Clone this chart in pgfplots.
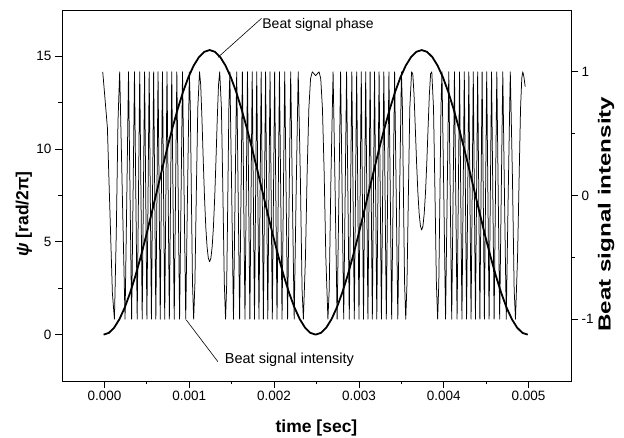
\documentclass[border=0pt]{standalone}
\usepackage{fontspec}
\setmainfont{Liberation Sans}
\usepackage{graphicx}
\usepackage{pgfplots}
\usepackage{pgfplotstable}
\pgfplotsset{compat=1.18}

% beat signal phase psi(t) [rad/2pi]
\pgfplotstableread{
t psi
-0.0000100 0
0.0000525 0.094
0.0001150 0.375
0.0001775 0.836
0.0002400 1.465
0.0003025 2.247
0.0003650 3.162
0.0004275 4.188
0.0004900 5.300
0.0005525 6.470
0.0006150 7.670
0.0006775 8.870
0.0007400 10.040
0.0008025 11.152
0.0008650 12.178
0.0009275 13.094
0.0009900 13.875
0.0010525 14.504
0.0011150 14.965
0.0011775 15.246
0.0012400 15.340
0.0013025 15.246
0.0013650 14.965
0.0014275 14.504
0.0014900 13.875
0.0015525 13.094
0.0016150 12.178
0.0016775 11.152
0.0017400 10.040
0.0018025 8.870
0.0018650 7.670
0.0019275 6.470
0.0019900 5.300
0.0020525 4.188
0.0021150 3.162
0.0021775 2.247
0.0022400 1.465
0.0023025 0.836
0.0023650 0.375
0.0024275 0.094
0.0024900 0
0.0025525 0.094
0.0026150 0.375
0.0026775 0.836
0.0027400 1.465
0.0028025 2.247
0.0028650 3.162
0.0029275 4.188
0.0029900 5.300
0.0030525 6.470
0.0031150 7.670
0.0031775 8.870
0.0032400 10.040
0.0033025 11.152
0.0033650 12.178
0.0034275 13.094
0.0034900 13.875
0.0035525 14.504
0.0036150 14.965
0.0036775 15.246
0.0037400 15.340
0.0038025 15.246
0.0038650 14.965
0.0039275 14.504
0.0039900 13.875
0.0040525 13.094
0.0041150 12.178
0.0041775 11.152
0.0042400 10.040
0.0043025 8.870
0.0043650 7.670
0.0044275 6.470
0.0044900 5.300
0.0045525 4.188
0.0046150 3.162
0.0046775 2.247
0.0047400 1.465
0.0048025 0.836
0.0048650 0.375
0.0049275 0.094
0.0049900 0
}\phase

% beat signal intensity (normalised)
\pgfplotstableread{
t I
-0.0000200 1.0
-0.0000100 0.92
0.0000350 0.55
0.0000940 -0.79
0.0001180 -1.0
0.0001400 -0.30
0.0001600 0.60
0.0001800 1.0
0.0002115 0
0.0002431 -1
0.0002642 0
0.0002840 1
0.0003207 -1
0.0003545 1
0.0003863 -1
0.0004165 1
0.0004455 -1
0.0004735 1
0.0005009 -1
0.0005277 1
0.0005541 -1
0.0005802 1
0.0006062 -1
0.0006321 1
0.0006581 -1
0.0006843 1
0.0007109 -1
0.0007378 1
0.0007654 -1
0.0007937 1
0.0008230 -1
0.0008537 1
0.0008861 -1
0.0009207 1
0.0009586 -1
0.0009792 0
0.0010012 1
0.0010129 0.707
0.0010252 0
0.0010382 -0.707
0.0010520 -1
0.0010668 -0.707
0.0010829 0
0.0011007 0.707
0.0011210 1
0.0011350 0.895
0.0011500 0.615
0.0011650 0.284
0.0011800 -0.018
0.0011950 -0.255
0.0012100 -0.416
0.0012250 -0.507
0.0012400 -0.535
0.0012550 -0.507
0.0012700 -0.416
0.0012850 -0.255
0.0013000 -0.018
0.0013150 0.284
0.0013300 0.615
0.0013450 0.895
0.0013590 1
0.0013793 0.707
0.0013971 0
0.0014132 -0.707
0.0014280 -1
0.0014418 -0.707
0.0014548 0
0.0014671 0.707
0.0014788 1
0.0015008 0
0.0015214 -1
0.0015593 1
0.0015939 -1
0.0016263 1
0.0016570 -1
0.0016863 1
0.0017146 -1
0.0017422 1
0.0017691 -1
0.0017957 1
0.0018219 -1
0.0018479 1
0.0018738 -1
0.0018998 1
0.0019259 -1
0.0019523 1
0.0019791 -1
0.0020065 1
0.0020345 -1
0.0020635 1
0.0020937 -1
0.0021255 1
0.0021593 -1
0.0021960 1
0.0022158 0
0.0022369 -1
0.0022596 0
0.0022845 1
0.0023100 0.136
0.0023300 -0.761
0.0023455 -1
0.0023700 -0.499
0.0023900 0.194
0.0024100 0.704
0.0024300 0.945
0.0024500 1.0
0.0024650 0.989
0.0024900 0.969
0.0025150 0.989
0.0025300 1.0
0.0025500 0.945
0.0025700 0.704
0.0025900 0.194
0.0026100 -0.499
0.0026345 -1
0.0026500 -0.761
0.0026700 0.136
0.0026955 1
0.0027204 0
0.0027431 -1
0.0027642 0
0.0027840 1
0.0028207 -1
0.0028545 1
0.0028863 -1
0.0029165 1
0.0029455 -1
0.0029735 1
0.0030009 -1
0.0030277 1
0.0030541 -1
0.0030802 1
0.0031062 -1
0.0031321 1
0.0031581 -1
0.0031843 1
0.0032109 -1
0.0032378 1
0.0032654 -1
0.0032937 1
0.0033230 -1
0.0033537 1
0.0033861 -1
0.0034207 1
0.0034586 -1
0.0034792 0
0.0035012 1
0.0035129 0.707
0.0035252 0
0.0035382 -0.707
0.0035520 -1
0.0035668 -0.707
0.0035829 0
0.0035997 0.707
0.0036210 1
0.0036350 0.984
0.0036500 0.811
0.0036650 0.540
0.0036800 0.261
0.0036950 0.025
0.0037100 -0.145
0.0037250 -0.246
0.0037400 -0.279
0.0037550 -0.246
0.0037700 -0.145
0.0037850 0.025
0.0038000 0.261
0.0038150 0.540
0.0038300 0.811
0.0038450 0.984
0.0038590 1
0.0038793 0.707
0.0038971 0
0.0039132 -0.707
0.0039280 -1
0.0039418 -0.707
0.0039548 0
0.0039671 0.707
0.0039788 1
0.0040008 0
0.0040214 -1
0.0040593 1
0.0040939 -1
0.0041263 1
0.0041570 -1
0.0041863 1
0.0042146 -1
0.0042422 1
0.0042691 -1
0.0042957 1
0.0043219 -1
0.0043479 1
0.0043738 -1
0.0043998 1
0.0044259 -1
0.0044523 1
0.0044791 -1
0.0045065 1
0.0045345 -1
0.0045635 1
0.0045937 -1
0.0046255 1
0.0046593 -1
0.0046960 1
0.0047158 0
0.0047369 -1
0.0047596 0
0.0047845 1
0.0048100 0.136
0.0048300 -0.761
0.0048455 -1
0.0048700 -0.499
0.0048900 0.194
0.0049050 0.70
0.0049200 0.95
0.0049320 1.0
0.0049450 0.96
0.0049600 0.88
}\intensity

\pgfplotsset{
  common/.style={
    width=509pt, height=371pt, scale only axis,
    xmin=-0.0005, xmax=0.0055,
    tick align=outside,
    major tick length=7pt, minor tick length=3.5pt,
    tick style={line width=0.8pt, black},
    axis line style={line width=0.9pt},
    /pgf/number format/assume math mode=true,
    tick label style={font=\fontsize{13.5}{15}\selectfont},
    label style={font=\fontsize{17.5}{20}\selectfont\bfseries},
    clip mode=individual,
  }
}

\begin{document}
\begin{tikzpicture}
\begin{axis}[common, name=ph,
  ymin=-2.5, ymax=17.5,
  xtick={0,0.001,0.002,0.003,0.004,0.005},
  minor xtick={0.0005,0.0015,0.0025,0.0035,0.0045},
  ytick={0,5,10,15},
  minor ytick={2.5,7.5,12.5},
  xtick pos=bottom, ytick pos=left,
  scaled x ticks=false,
  xticklabel style={/pgf/number format/.cd, fixed, fixed zerofill, precision=3},
  xlabel={time [sec]},
  xlabel style={at={(axis description cs:0.5,0)}, anchor=base, yshift=-52pt},
  ylabel={\textit{ψ} [rad/2π]},
  ylabel style={at={(axis description cs:-0.0747,0.45)}, anchor=center},
]
\addplot[black, line width=1.8pt, line join=round] table[x=t, y=psi] {\phase};
\draw[black, line width=0.6pt] (axis cs:0.001339,14.95) -- (axis cs:0.001852,17.05);
\node[anchor=base west, inner sep=0pt, font=\fontsize{14}{16}\selectfont]
  at (axis cs:0.00186,16.51) {Beat signal phase};
\draw[black, line width=0.6pt] (axis cs:0.000965,0.79) -- (axis cs:0.001338,-1.46);
\node[anchor=base west, inner sep=0pt, font=\fontsize{14.5}{16}\selectfont]
  at (axis cs:0.001418,-1.53) {Beat signal intensity};
\end{axis}
\begin{axis}[common,
  ymin=-1.5, ymax=1.5,
  axis x line=none, axis y line*=right,
  ytick={-1,0,1}, minor ytick={-0.5,0.5},
  ylabel={\scalebox{1.38}[1]{Beat signal intensity}},
  ylabel style={at={(axis description cs:1.069,0.45)}, anchor=center},
]
\addplot[black, line width=0.75pt, line join=round] table[x=t, y=I] {\intensity};
\end{axis}
\pgfresetboundingbox
\path[use as bounding box] (ph.south west) ++(-62pt,-57pt) rectangle ++(624pt,438pt);
\end{tikzpicture}
\end{document}
